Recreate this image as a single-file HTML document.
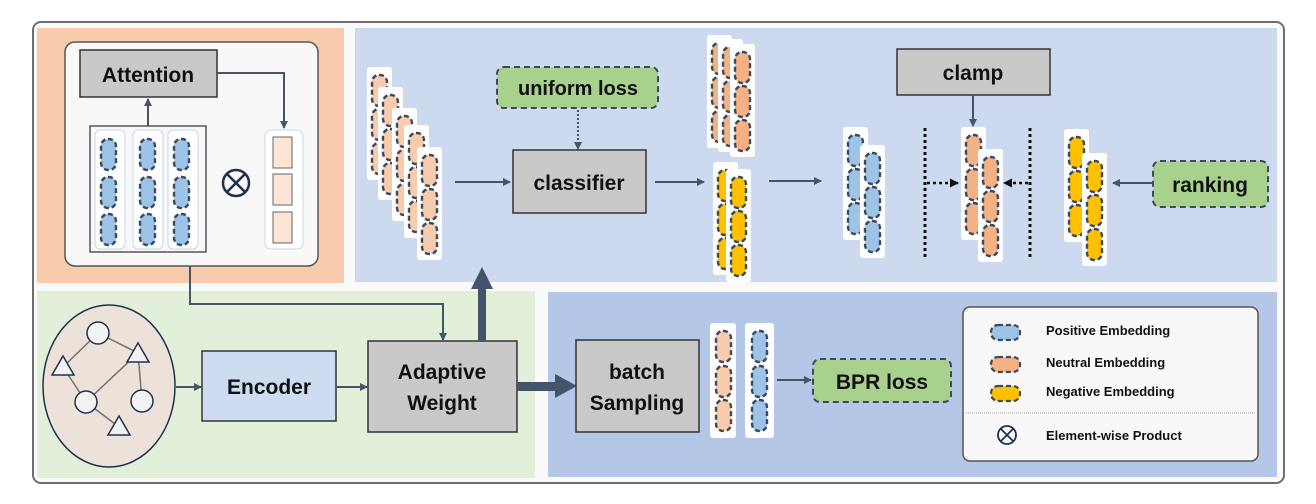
<!DOCTYPE html>
<html><head><meta charset="utf-8"><style>
html,body{margin:0;padding:0;background:#fff;}
svg{display:block;}
text{font-family:"Liberation Sans",sans-serif;font-weight:bold;fill:#111;}
</style></head><body>
<svg width="1316" height="504" viewBox="0 0 1316 504" xmlns="http://www.w3.org/2000/svg">
<defs>
<marker id="ah" markerWidth="8" markerHeight="8" refX="7" refY="4" orient="auto" markerUnits="userSpaceOnUse"><path d="M0,0 L8,4 L0,8 z" fill="#44546a"/></marker>
<marker id="ahb" markerWidth="9" markerHeight="9" refX="8" refY="4.5" orient="auto" markerUnits="userSpaceOnUse"><path d="M0,0 L9,4.5 L0,9 z" fill="#111"/></marker>
<g id="pO"><rect x="0" y="0" width="15" height="31" rx="7" fill="#f4b183" stroke="#3b4a5f" stroke-width="2.4" stroke-dasharray="5 3"/></g>
<g id="pL"><rect x="0" y="0" width="15" height="31" rx="7" fill="#f8cbad" stroke="#3b4a5f" stroke-width="2.4" stroke-dasharray="5 3"/></g>
<g id="pB"><rect x="0" y="0" width="15" height="31" rx="7" fill="#9dc3e6" stroke="#3b4a5f" stroke-width="2.4" stroke-dasharray="5 3"/></g>
<g id="pY"><rect x="0" y="0" width="15" height="31" rx="7" fill="#ffc000" stroke="#3b4a5f" stroke-width="2.4" stroke-dasharray="5 3"/></g>
<g id="cL"><rect x="0" y="0" width="25" height="113" rx="3" fill="#fff"/><use href="#pL" x="5" y="8"/><use href="#pL" x="5" y="42"/><use href="#pL" x="5" y="76"/></g>
<g id="cO"><rect x="0" y="0" width="25" height="113" rx="3" fill="#fff"/><use href="#pO" x="5" y="8"/><use href="#pO" x="5" y="42"/><use href="#pO" x="5" y="76"/></g>
<g id="cB"><rect x="0" y="0" width="25" height="113" rx="3" fill="#fff"/><use href="#pB" x="5" y="8"/><use href="#pB" x="5" y="42"/><use href="#pB" x="5" y="76"/></g>
<g id="cY"><rect x="0" y="0" width="25" height="113" rx="3" fill="#fff"/><use href="#pY" x="5" y="8"/><use href="#pY" x="5" y="42"/><use href="#pY" x="5" y="76"/></g>
</defs>

<rect x="33" y="22" width="1251" height="461" rx="8" fill="#fafafa" stroke="#6e6e6e" stroke-width="2"/>
<rect x="37" y="28" width="307" height="255" fill="#f8cbad"/>
<rect x="355" y="28" width="922" height="254" fill="#cdd9ee"/>
<rect x="37" y="291" width="498" height="187" fill="#e2efd9"/>
<rect x="548" y="292" width="729" height="185" fill="#b4c7e7"/>

<rect x="65" y="42" width="253" height="224" rx="10" fill="#f8f8f8" stroke="#555" stroke-width="1.5"/>
<rect x="80" y="50" width="137" height="47" fill="#c9c9c9" stroke="#333" stroke-width="1.5"/>
<text x="148" y="82" font-size="21" text-anchor="middle">Attention</text>
<rect x="90" y="126" width="116" height="126" fill="#f8f8f8" stroke="#555" stroke-width="1.5"/>
<rect x="95" y="130" width="30" height="119" rx="5" fill="#fff" stroke="#c7d6f0"/>
<rect x="133" y="130" width="30" height="119" rx="5" fill="#fff" stroke="#c7d6f0"/>
<rect x="168" y="130" width="30" height="119" rx="5" fill="#fff" stroke="#c7d6f0"/>
<use href="#pB" x="101" y="139"/><use href="#pB" x="101" y="177"/><use href="#pB" x="101" y="214"/>
<use href="#pB" x="140" y="139"/><use href="#pB" x="140" y="177"/><use href="#pB" x="140" y="214"/>
<use href="#pB" x="174" y="139"/><use href="#pB" x="174" y="177"/><use href="#pB" x="174" y="214"/>
<line x1="148" y1="126" x2="148" y2="99" stroke="#44546a" stroke-width="2" marker-end="url(#ah)"/>
<circle cx="236" cy="183" r="13" fill="none" stroke="#1f2f50" stroke-width="2.5"/>
<line x1="227" y1="174" x2="245" y2="192" stroke="#1f2f50" stroke-width="2.5"/>
<line x1="245" y1="174" x2="227" y2="192" stroke="#1f2f50" stroke-width="2.5"/>
<rect x="265" y="130" width="38" height="119" rx="6" fill="#fff" stroke="#c7d6f0"/>
<rect x="273" y="137" width="19" height="31" fill="#fce4d6" stroke="#666"/>
<rect x="273" y="174" width="19" height="31" fill="#fce4d6" stroke="#666"/>
<rect x="273" y="212" width="19" height="31" fill="#fce4d6" stroke="#666"/>
<polyline points="217,73 284,73 284,128" fill="none" stroke="#44546a" stroke-width="2" marker-end="url(#ah)"/>

<use href="#cL" x="367" y="67"/><use href="#cL" x="378" y="87"/><use href="#cL" x="392" y="108"/><use href="#cL" x="404" y="125"/><use href="#cL" x="417" y="147"/>
<line x1="455" y1="182" x2="510" y2="182" stroke="#44546a" stroke-width="2" marker-end="url(#ah)"/>
<rect x="497" y="67" width="161" height="41" rx="7" fill="#a9d18e" stroke="#3b4a5f" stroke-width="2" stroke-dasharray="6 4"/>
<text x="578" y="95" font-size="20" text-anchor="middle">uniform loss</text>
<line x1="578" y1="110" x2="578" y2="149" stroke="#44546a" stroke-width="2" stroke-dasharray="2 2" marker-end="url(#ah)"/>
<rect x="513" y="150" width="133" height="63" fill="#c9c9c9" stroke="#333" stroke-width="1.5"/>
<text x="579" y="190" font-size="21" text-anchor="middle">classifier</text>
<line x1="655" y1="182" x2="704" y2="182" stroke="#44546a" stroke-width="2" marker-end="url(#ah)"/>

<use href="#cO" x="707" y="35"/><use href="#cO" x="718" y="39"/><use href="#cO" x="730" y="44"/>
<use href="#cY" x="713" y="162"/><use href="#cY" x="726" y="169"/>
<line x1="769" y1="181" x2="821" y2="181" stroke="#44546a" stroke-width="2" marker-end="url(#ah)"/>
<use href="#cB" x="843" y="127"/><use href="#cB" x="860" y="145"/>

<line x1="925" y1="128" x2="925" y2="258" stroke="#111" stroke-width="3" stroke-dasharray="3 3"/>
<line x1="1030" y1="128" x2="1030" y2="258" stroke="#111" stroke-width="3" stroke-dasharray="3 3"/>
<line x1="927" y1="183" x2="958" y2="183" stroke="#111" stroke-width="2.5" stroke-dasharray="3 3" marker-end="url(#ahb)"/>
<line x1="1028" y1="183" x2="1004" y2="183" stroke="#111" stroke-width="2.5" stroke-dasharray="3 3" marker-end="url(#ahb)"/>
<rect x="897" y="49" width="153" height="46" fill="#c9c9c9" stroke="#333" stroke-width="1.5"/>
<text x="973" y="80" font-size="21" text-anchor="middle">clamp</text>
<line x1="973" y1="95" x2="973" y2="126" stroke="#44546a" stroke-width="2" marker-end="url(#ah)"/>
<use href="#cO" x="961" y="127"/><use href="#cO" x="978" y="149"/>
<use href="#cY" x="1064" y="129"/><use href="#cY" x="1082" y="153"/>
<line x1="1152" y1="183" x2="1113" y2="183" stroke="#44546a" stroke-width="2" marker-end="url(#ah)"/>
<rect x="1153" y="161" width="115" height="46" rx="7" fill="#a9d18e" stroke="#3b4a5f" stroke-width="2" stroke-dasharray="6 4"/>
<text x="1210" y="192" font-size="21" text-anchor="middle">ranking</text>

<ellipse cx="109" cy="386" rx="66" ry="81" fill="#ede2da" stroke="#1f3050" stroke-width="1.5"/>
<g stroke="#7a6f6a" stroke-width="1.5">
<line x1="98" y1="333" x2="63" y2="367"/><line x1="98" y1="333" x2="138" y2="353"/>
<line x1="63" y1="367" x2="86" y2="402"/><line x1="138" y1="353" x2="86" y2="402"/>
<line x1="138" y1="353" x2="142" y2="401"/><line x1="86" y1="402" x2="119" y2="427"/>
</g>
<g fill="#f2f2f2" stroke="#1f3050" stroke-width="1.5">
<circle cx="98" cy="333" r="11"/><circle cx="86" cy="402" r="11"/><circle cx="142" cy="401" r="11"/>
<polygon points="63,356 74,375 52,375"/><polygon points="138,343 149,362 127,362"/><polygon points="119,416 130,435 108,435"/>
</g>
<line x1="176" y1="387" x2="201" y2="387" stroke="#44546a" stroke-width="2" marker-end="url(#ah)"/>
<rect x="202" y="351" width="134" height="70" fill="#cddcf0" stroke="#333" stroke-width="1.5"/>
<text x="269" y="394" font-size="21" text-anchor="middle">Encoder</text>
<line x1="336" y1="387" x2="367" y2="387" stroke="#44546a" stroke-width="2" marker-end="url(#ah)"/>
<polyline points="190,266 190,304 443,304 443,340" fill="none" stroke="#44546a" stroke-width="2" marker-end="url(#ah)"/>
<rect x="368" y="341" width="149" height="91" fill="#c9c9c9" stroke="#333" stroke-width="1.5"/>
<text x="442" y="379" font-size="21" text-anchor="middle">Adaptive</text>
<text x="442" y="410" font-size="21" text-anchor="middle">Weight</text>
<rect x="478" y="288" width="8" height="53" fill="#44546a"/>
<polygon points="482,267 471,289 493,289" fill="#44546a"/>
<rect x="517" y="382" width="40" height="9" fill="#44546a"/>
<polygon points="577,386 555,374 555,398" fill="#44546a"/>

<rect x="576" y="340" width="123" height="92" fill="#c9c9c9" stroke="#333" stroke-width="1.5"/>
<text x="637" y="379" font-size="21" text-anchor="middle">batch</text>
<text x="637" y="410" font-size="21" text-anchor="middle">Sampling</text>
<rect x="710" y="323" width="26" height="115" rx="3" fill="#fff"/>
<use href="#pL" x="716" y="331"/><use href="#pL" x="716" y="366"/><use href="#pL" x="716" y="400"/>
<rect x="745" y="323" width="29" height="115" rx="3" fill="#fff"/>
<use href="#pB" x="752" y="331"/><use href="#pB" x="752" y="366"/><use href="#pB" x="752" y="400"/>
<line x1="777" y1="380" x2="811" y2="380" stroke="#44546a" stroke-width="2" marker-end="url(#ah)"/>
<rect x="813" y="359" width="138" height="43" rx="7" fill="#a9d18e" stroke="#3b4a5f" stroke-width="2" stroke-dasharray="6 4"/>
<text x="882" y="389" font-size="21" text-anchor="middle">BPR loss</text>

<rect x="963" y="307" width="295" height="154" rx="7" fill="#f8f8f8" stroke="#555" stroke-width="1.5"/>
<rect x="991" y="325" width="29" height="15" rx="7" fill="#9dc3e6" stroke="#3b4a5f" stroke-width="2.2" stroke-dasharray="5 3"/>
<rect x="991" y="357" width="29" height="15" rx="7" fill="#f4b183" stroke="#3b4a5f" stroke-width="2.2" stroke-dasharray="5 3"/>
<rect x="991" y="386" width="29" height="15" rx="7" fill="#ffc000" stroke="#3b4a5f" stroke-width="2.2" stroke-dasharray="5 3"/>
<text x="1046" y="335" font-size="13">Positive Embedding</text>
<text x="1046" y="367" font-size="13">Neutral Embedding</text>
<text x="1046" y="396" font-size="13">Negative Embedding</text>
<line x1="966" y1="413" x2="1255" y2="413" stroke="#aaa" stroke-width="1" stroke-dasharray="1 1"/>
<circle cx="1007" cy="435" r="9" fill="none" stroke="#1f2f50" stroke-width="1.8"/>
<line x1="1001" y1="429" x2="1013" y2="441" stroke="#1f2f50" stroke-width="1.8"/>
<line x1="1013" y1="429" x2="1001" y2="441" stroke="#1f2f50" stroke-width="1.8"/>
<text x="1046" y="440" font-size="13">Element-wise Product</text>
</svg>
</body></html>
